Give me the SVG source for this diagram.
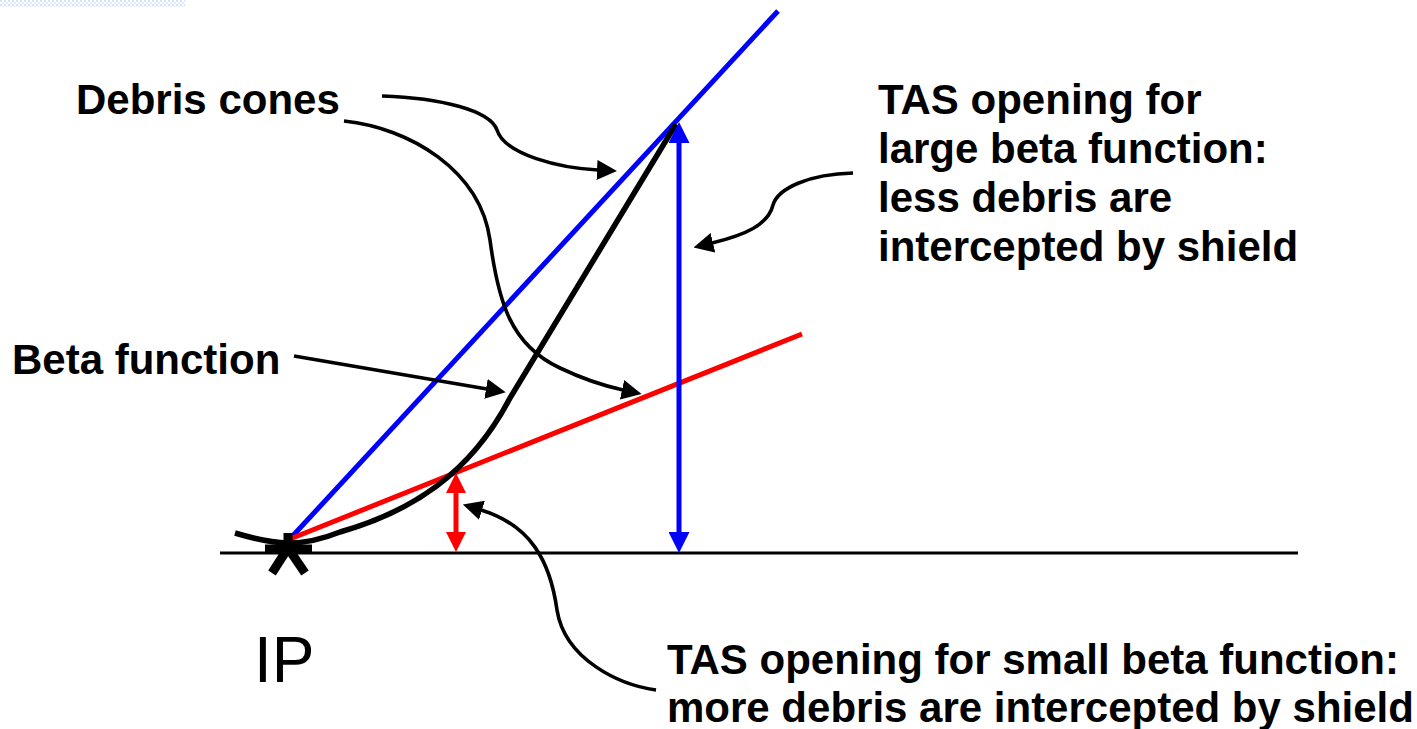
<svg xmlns="http://www.w3.org/2000/svg" width="1417" height="729" viewBox="0 0 1417 729">
<style>
.lbl{font-family:"Liberation Sans",Arial,sans-serif;font-weight:bold;font-size:42px;fill:#000}
.ip{font-family:"Liberation Sans",Arial,sans-serif;font-size:64px;fill:#000}
.con{fill:none;stroke:#000;stroke-width:3.6}
</style>
<defs>
<marker id="ah" viewBox="0 0 20 20" markerWidth="20" markerHeight="20" markerUnits="userSpaceOnUse" refX="1" refY="10" orient="auto">
<path d="M0,0 L20,10 L0,20 z" fill="#000"/>
</marker>
<marker id="ahb" viewBox="0 0 20 20" markerWidth="21" markerHeight="21" markerUnits="userSpaceOnUse" refX="1" refY="10" orient="auto-start-reverse">
<path d="M0,0 L20,10 L0,20 z" fill="#0000FF"/>
</marker>
<marker id="ahr" viewBox="0 0 20 20" markerWidth="20" markerHeight="20" markerUnits="userSpaceOnUse" refX="1" refY="10" orient="auto-start-reverse">
<path d="M0,0 L20,10 L0,20 z" fill="#FF0000"/>
</marker>
<pattern id="chk" width="4" height="4" patternUnits="userSpaceOnUse">
<rect width="2" height="2" fill="#d6e0ff"/>
<rect x="2" y="2" width="2" height="2" fill="#e6ecff"/>
</pattern>
</defs>
<rect width="1417" height="729" fill="#fff"/>
<rect x="0" y="0" width="185" height="7" fill="url(#chk)"/>

<g id="axis">
<line x1="220" y1="553" x2="1298" y2="553" stroke="#000" stroke-width="3"/>
</g>
<g id="debris-cone-large">
<line x1="288" y1="541" x2="778" y2="11" stroke="#0000FF" stroke-width="5"/>
</g>
<g id="debris-cone-small">
<line x1="285" y1="541" x2="802" y2="334" stroke="#FF0000" stroke-width="5"/>
</g>
<g id="beta-function">
<path d="M235,533 C275,545 300,548 340,532 C410,512 470,475 510,398 L676,124" fill="none" stroke="#000" stroke-width="5.5"/>
</g>
<g id="ip-marker" stroke="#000" stroke-width="9" stroke-linecap="butt">
<line x1="288" y1="533" x2="288" y2="550"/>
<line x1="265" y1="549" x2="312" y2="549"/>
<line x1="288" y1="548" x2="272" y2="573"/>
<line x1="288" y1="548" x2="305" y2="573"/>
</g>
<g id="ip-label"><text class="ip" x="254" y="682">IP</text></g>

<g id="tas-large">
<line x1="679" y1="142" x2="679" y2="533" stroke="#0000FF" stroke-width="5" marker-start="url(#ahb)" marker-end="url(#ahb)"/>
</g>
<g id="tas-small">
<line x1="456" y1="492" x2="456" y2="533" stroke="#FF0000" stroke-width="5" marker-start="url(#ahr)" marker-end="url(#ahr)"/>
</g>

<g id="label-debris"><text class="lbl" x="76" y="114">Debris cones</text></g>
<g id="label-beta"><text class="lbl" x="12" y="374">Beta function</text></g>
<g id="label-tas-large">
<text class="lbl" x="878" y="114">TAS opening for</text>
<text class="lbl" x="878" y="163">large beta function:</text>
<text class="lbl" x="878" y="212">less debris are</text>
<text class="lbl" x="878" y="261">intercepted by shield</text>
</g>
<g id="label-tas-small">
<text class="lbl" x="667" y="674">TAS opening for small beta function:</text>
<text class="lbl" x="667" y="722">more debris are intercepted by shield</text>
</g>

<g id="connectors">
<path class="con" d="M382,96 C440,98 490,110 497,130 C505,155 560,168 598,170" marker-end="url(#ah)"/>
<path class="con" d="M344,121 C410,128 480,170 490,240 C498,300 510,345 560,368 C585,380 605,386 623,390" marker-end="url(#ah)"/>
<path class="con" d="M294,356 L487,389" marker-end="url(#ah)"/>
<path class="con" d="M853,173 C810,174 778,188 773,205 C768,225 745,235 712,243" marker-end="url(#ah)"/>
<path class="con" d="M656,690 C620,685 565,660 557,610 C550,560 530,525 481,510" marker-end="url(#ah)"/>
</g>
</svg>
